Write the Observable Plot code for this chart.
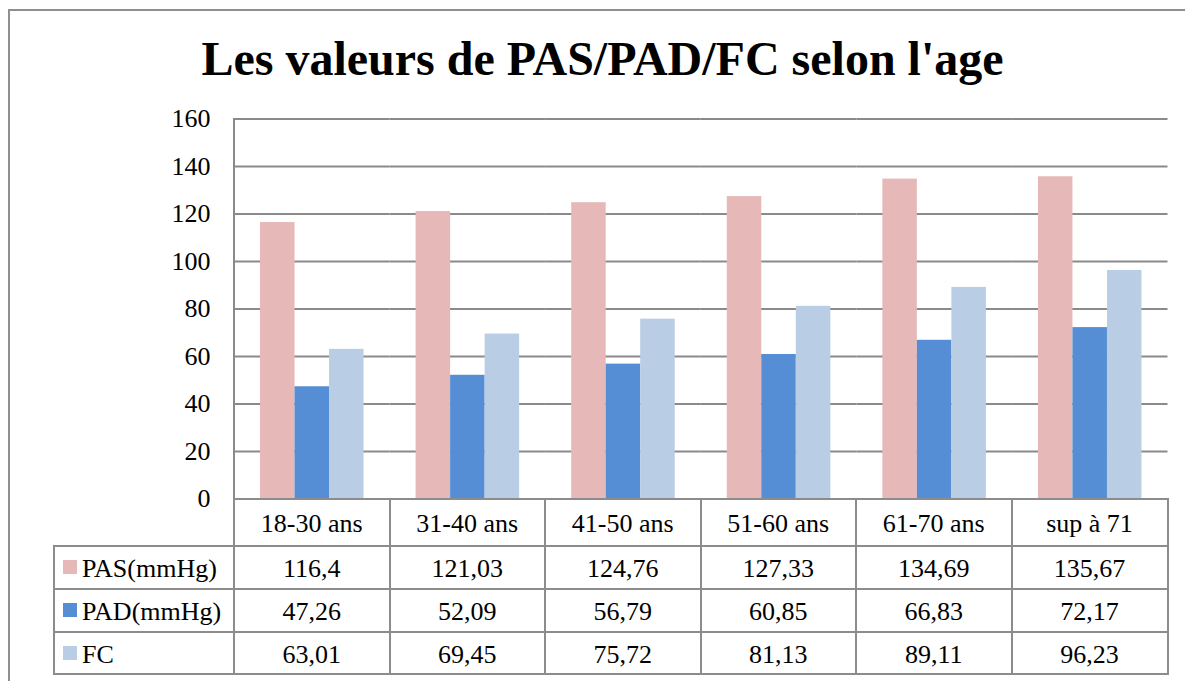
<!DOCTYPE html>
<html><head><meta charset="utf-8">
<script src="https://cdn.jsdelivr.net/npm/d3@7"></script>
<script src="https://cdn.jsdelivr.net/npm/@observablehq/plot@0.6"></script>
<style>
body{margin:0;background:#fff;font-family:"Liberation Serif","Times New Roman",serif;color:#000;}
#wrap{position:relative;width:1185px;height:681px;overflow:hidden;background:#fff;}
#border{position:absolute;left:8px;top:9px;width:1300px;height:900px;border:2px solid #8f8f8f;box-sizing:border-box;}
#title{position:absolute;left:0;top:35px;width:1205px;text-align:center;font-weight:bold;font-size:48px;line-height:48px;white-space:nowrap;}
#chart{position:absolute;left:0;top:100px;}
#axisline{position:absolute;left:233px;top:118px;width:2px;height:381px;background:#8a8a8a;}
.cell{position:absolute;box-sizing:border-box;border:2px solid #8c8c8c;display:flex;align-items:center;justify-content:center;font-size:26px;line-height:26px;padding-top:3px;white-space:nowrap;background:#fff;}
.leg{justify-content:flex-start;padding-left:8px;}
.sw{display:inline-block;width:14px;height:14px;margin-right:5px;margin-top:-4px;}
</style></head>
<body>
<div id="wrap">
  <div id="border"></div>
  <div id="title">Les valeurs de PAS/PAD/FC selon l'age</div>
  <div id="chart"></div>
  <div id="axisline"></div>
  <div id="table"></div>
</div>
<script>
const ages = ["18-30 ans", "31-40 ans", "41-50 ans", "51-60 ans", "61-70 ans", "sup à 71"];
const seriesNames = ["PAS(mmHg)", "PAD(mmHg)", "FC"];
const pas = [116.4, 121.03, 124.76, 127.33, 134.69, 135.67];
const pad = [47.26, 52.09, 56.79, 60.85, 66.83, 72.17];
const fc = [63.01, 69.45, 75.72, 81.13, 89.11, 96.23];
const yTicks = [0, 20, 40, 60, 80, 100, 120, 140, 160];
const seriesColors = ["#E6B9B8", "#558ED5", "#B9CDE5"];

const seriesValues = [pas, pad, fc];
const rows = ages.flatMap((age, i) => seriesNames.map((s, k) => ({age, series: s, value: seriesValues[k][i]})));

const chart = Plot.plot({
  width: 1185,
  height: 400,
  marginLeft: 234,
  marginRight: 17.5,
  marginTop: 18.5,
  marginBottom: 1.5,
  style: {fontFamily: "'Liberation Serif','Times New Roman',serif", fontSize: "26px", background: "transparent", overflow: "visible"},
  fx: {domain: ages, padding: 0, axis: null, round: false},
  x: {domain: seriesNames, paddingInner: 0, paddingOuter: 0.754, axis: null, round: false},
  y: {domain: [0, 160], axis: null},
  color: {domain: seriesNames, range: seriesColors},
  marks: [
    Plot.gridY(yTicks, {stroke: "#8a8a8a", strokeOpacity: 1, strokeWidth: 2}),
    Plot.barY(rows, {fx: "age", x: "series", y: "value", fill: "series"}),
    Plot.axisY(yTicks, {label: null, tickSize: 0, tickPadding: 24, fontSize: 26, fill: "#000", tickFormat: d => String(d)})
  ]
});
document.getElementById("chart").appendChild(chart);

// table below the chart (category labels + values + legend)
const colX = [54, 234, 389.5, 545, 700.5, 856, 1011.5, 1167.5];
const rowY = [498.5, 545.7, 589, 632.3, 674];
const fmt = v => String(v).replace(".", ",");
const table = document.getElementById("table");
function cell(x0, x1, y0, y1, html, cls) {
  const d = document.createElement("div");
  d.className = "cell" + (cls ? " " + cls : "");
  d.style.left = (x0 - 1) + "px";
  d.style.top = (y0 - 1) + "px";
  d.style.width = (x1 - x0 + 2) + "px";
  d.style.height = (y1 - y0 + 2) + "px";
  d.innerHTML = html;
  table.appendChild(d);
}
ages.forEach((a, i) => cell(colX[i + 1], colX[i + 2], rowY[0], rowY[1], a));
seriesNames.forEach((s, k) => {
  cell(colX[0], colX[1], rowY[k + 1], rowY[k + 2], `<span class="sw" style="background:${seriesColors[k]}"></span>${s}`, "leg");
  ages.forEach((a, i) => cell(colX[i + 1], colX[i + 2], rowY[k + 1], rowY[k + 2], fmt(seriesValues[k][i])));
});
</script>
</body></html>
